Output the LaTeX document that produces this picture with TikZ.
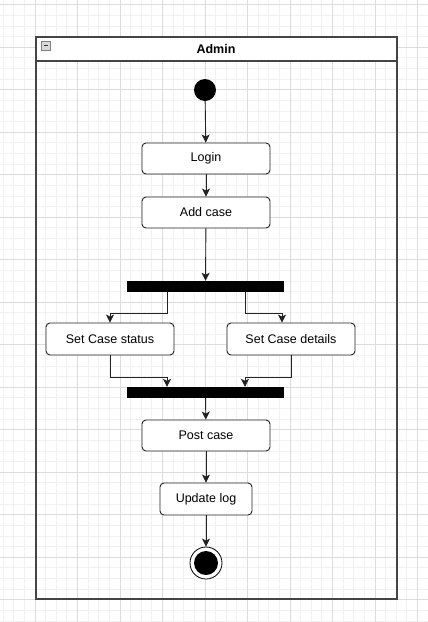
\documentclass[tikz,border=0pt]{standalone}
\usepackage{fontspec}
\setmainfont{Liberation Sans}
\usetikzlibrary{arrows.meta}
\definecolor{minorgrid}{HTML}{F1F1F1}
\definecolor{majorgrid}{HTML}{DCDCDC}
\definecolor{ink}{HTML}{222222}
\definecolor{lane}{HTML}{444444}
\begin{document}
\begin{tikzpicture}[x=1pt,y=-1pt,
  act/.style={draw=ink, rounded corners=4pt, fill=white, line width=0.9pt,
    minimum width=128pt, minimum height=31pt, inner sep=0pt,
    font=\fontsize{12.5}{14}\selectfont},
  bar/.style={fill=black, minimum width=157pt, minimum height=11pt, inner sep=0pt},
  arr/.style={draw=ink, line width=0.9pt, -{Stealth[length=8pt,width=8pt,inset=2pt]}}]
\useasboundingbox (0,0) rectangle (428,622);
\fill[white] (0,0) rectangle (428,622);
% background grid
\foreach \i in {-3,...,37} \draw[minorgrid, line width=0.8pt] ({35+\i*10.625},0) -- ++(0,622);
\foreach \j in {0,...,58} \draw[minorgrid, line width=0.8pt] (0,{4.7+\j*10.625}) -- ++(428,0);
\foreach \i in {-1,...,9} \draw[majorgrid, line width=0.8pt] ({35+\i*42.5},0) -- ++(0,622);
\foreach \j in {0,...,14} \draw[majorgrid, line width=0.8pt] (0,{4.7+\j*42.5}) -- ++(428,0);

% swimlane frame
\fill[white] (36,37) rectangle (397,61);
\draw[lane, line width=1.2pt] (36,37) rectangle (397,599);
\draw[lane, line width=1.2pt] (36,61) -- (397,61);
\node[font=\bfseries\fontsize{12.5}{14}\selectfont] (title) at (216,49) {Admin};
% collapse toggle
\draw[gray, fill=gray!30, line width=0.6pt] (41.5,41.5) rectangle (50,50);
\draw[black!80, line width=1.2pt] (43.5,45.8) -- (48,45.8);

% activity nodes
\node[circle, fill=black, minimum size=22pt, inner sep=0pt] (start) at (205,90) {};
\node[act] (login) at (206,158.5) {Login};
\node[act] (addcase) at (206,212.5) {Add case};
\node[bar] (fork) at (205.5,286.5) {};
\node[act, minimum height=32pt] (status) at (110,339) {Set Case status};
\node[act, minimum height=32pt] (details) at (291,339) {Set Case details};
\node[bar] (join) at (205.5,392.5) {};
\node[act] (post) at (206,435.5) {Post case};
\node[act, minimum width=92pt, minimum height=32pt] (update) at (206,499) {Update log};
\node[circle, draw=black, fill=white, line width=0.8pt, minimum size=32pt, inner sep=0pt] (end) at (206,563) {};
\node[circle, fill=black, minimum size=24pt, inner sep=0pt] (endin) at (206,563) {};

% routing points
\coordinate (f1) at (167,313);
\coordinate (f2) at (245,313);
\coordinate (j1) at (167,377);
\coordinate (j2) at (245,377);

% control flow
\draw[arr] (start) -- (login);
\draw[arr] (login) -- (addcase);
\draw[arr] (addcase) -- (fork);
\draw[arr] (fork.south -| f1) -- (f1) -| (status.north);
\draw[arr] (fork.south -| f2) -- (f2) -| ([xshift=-9pt]details.north);
\draw[arr] (status.south) |- (j1) -- (j1 |- join.north);
\draw[arr] (details.south) |- (j2) -- (j2 |- join.north);
\draw[arr] (join) -- (post);
\draw[arr] (post) -- (update);
\draw[arr] (update) -- (end);
\end{tikzpicture}
\end{document}
